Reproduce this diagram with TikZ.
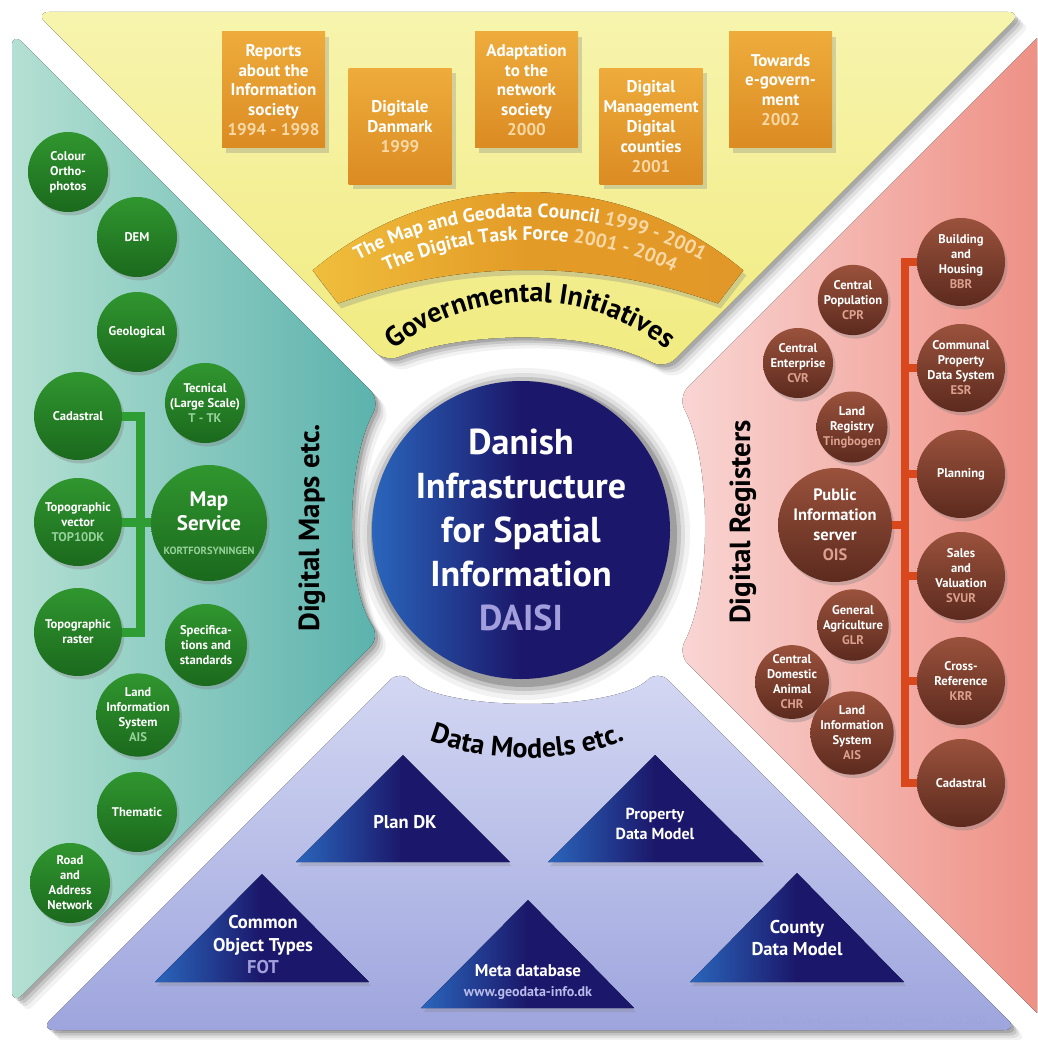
\documentclass[tikz,border=0pt]{standalone}
\usepackage{fontspec}
\setmainfont{PT Sans}
\usetikzlibrary{shadows,decorations.text}
\definecolor{yelA}{HTML}{F7F4AE}
\definecolor{yelB}{HTML}{F1EB80}
\definecolor{tealL}{HTML}{B4E0D2}
\definecolor{tealR}{HTML}{5BB2AD}
\definecolor{pinkL}{HTML}{F9D6D4}
\definecolor{pinkR}{HTML}{EE8F84}
\definecolor{lavT}{HTML}{D4D8F3}
\definecolor{lavB}{HTML}{9EA5DD}
\definecolor{boxT}{HTML}{EEAC3C}
\definecolor{boxB}{HTML}{DB8B22}
\definecolor{bandL}{HTML}{F0BE3C}
\definecolor{bandM}{HTML}{E39B27}
\definecolor{bandR}{HTML}{E29828}
\definecolor{grT}{HTML}{30962F}
\definecolor{grB}{HTML}{1B691D}
\definecolor{brT}{HTML}{9A523C}
\definecolor{brB}{HTML}{5C2A1E}
\definecolor{navy}{HTML}{1B176A}
\definecolor{triblue}{HTML}{2A66BC}
\definecolor{glink}{HTML}{2E9E34}
\definecolor{rlink}{HTML}{D9471D}
\definecolor{subgr}{HTML}{96D29A}
\definecolor{subbr}{HTML}{DBA08E}
\definecolor{yr}{HTML}{F8D9A6}
\definecolor{lavtxt}{HTML}{A39FDD}
\definecolor{webtxt}{HTML}{B9BBEA}
\definecolor{credit}{HTML}{9DA4DB}
\newcommand{\fsz}[2]{\fontsize{#1}{#2}\selectfont}
\def\yelpath{(35,-12) -- (1022,-12) -- (665,-369) .. controls (590,-330) and (470,-330) .. (385,-362) -- cycle}
\def\tealpath{(12,-32) -- (380,-400) .. controls (345,-465) and (345,-585) .. (380,-637) -- (12,-1005) -- cycle}
\def\pinkpath{(1045,-30) -- (678,-397) .. controls (712,-462) and (712,-590) .. (678,-654) -- (1045,-1021) -- cycle}
\def\lavpath{(400,-670) .. controls (443,-712) and (614,-712) .. (658,-670) -- (1018,-1030) -- (40,-1030) -- cycle}
\tikzset{
  reg/.style={rounded corners=14pt},
  shad/.style={drop shadow={shadow xshift=2.5pt,shadow yshift=-3.5pt,opacity=0.35}},
  gc/.style={circle,inner sep=0pt,top color=grT,bottom color=grB,text=white,align=center,
     font=\fsz{12.6}{15}\bfseries,shad},
  bc/.style={circle,inner sep=0pt,top color=brT,bottom color=brB,text=white,align=center,
     font=\fsz{12.6}{15}\bfseries,shad},
  obox/.style={rectangle,inner sep=0pt,minimum width=103pt,minimum height=116pt,
     top color=boxT,bottom color=boxB,text=white,align=center,font=\fsz{17}{19.8}\bfseries,
     drop shadow={shadow xshift=4pt,shadow yshift=-5pt,opacity=0.3}},
  tri/.style={left color=triblue,right color=navy,middle color=navy,
     drop shadow={shadow xshift=2pt,shadow yshift=-4pt,opacity=0.25}},
  tt/.style={text=white,align=center,font=\fsz{18.5}{22.5}\bfseries},
  sect/.style={font=\fsz{29}{30}\bfseries,text=black},
  gline/.style={draw=glink,line width=9pt},
  rline/.style={draw=rlink,line width=8pt},
  band/.style={left color=bandL,right color=bandR,middle color=bandM,
     drop shadow={shadow xshift=3pt,shadow yshift=-5pt,opacity=0.3}}
}
\begin{document}
\begin{tikzpicture}[x=1pt,y=1pt]
\useasboundingbox (0,0) rectangle (1037,-1040);
\fill[white] (0,0) rectangle (1037,-1040);
\begin{scope}
\clip (0,0) rectangle (1037,-1040);
% region shadows
\foreach \d/\o in {11/0.05,8/0.08,5.5/0.11,3/0.15}{
  \fill[reg,black,opacity=\o,shift={(\d,-\d)}] \yelpath;
  \fill[reg,black,opacity=\o,shift={(\d,-\d)}] \tealpath;
  \fill[reg,black,opacity=\o,shift={(\d,-\d)}] \pinkpath;
  \fill[reg,black,opacity=\o,shift={(\d,-\d)}] \lavpath;
}
% regions
\fill[reg,top color=yelA,bottom color=yelB] \yelpath;
\fill[reg,left color=tealL,right color=tealR] \tealpath;
\fill[reg,left color=pinkL,right color=pinkR] \pinkpath;
\fill[reg,top color=lavT,bottom color=lavB] \lavpath;
% central circle halo
\foreach \r/\o in {166/0.05,161/0.08,157/0.12,153/0.18}{
  \fill[black,opacity=\o] (524,-534) circle (\r);
}
\node[circle,minimum size=298pt,inner sep=0pt,left color=triblue,right color=navy,middle color=navy,
  text=white,align=center,font=\fsz{36}{44}\bfseries] (daisi) at (521,-530)
  {Danish\\Infrastructure\\for Spatial\\Information\\{\color{lavtxt}DAISI}};
% governmental initiatives
\node[obox] (b1) at (273.5,-90) {Reports\\about the\\Information\\society\\{\color{yr}1994 - 1998}};
\node[obox] (b2) at (400,-126.5) {Digitale\\Danmark\\{\color{yr}1999}};
\node[obox] (b3) at (526.5,-90) {Adaptation\\to the\\network\\society\\{\color{yr}2000}};
\node[obox] (b4) at (651,-126.5) {Digital\\Management\\Digital\\counties\\{\color{yr}2001}};
\node[obox] (b5) at (780.5,-90) {Towards\\e-govern-\\ment\\{\color{yr}2002}};
\fill[band] ([shift={(528,-527)}]130:335) arc[start angle=130,end angle=50,radius=335]
  -- ([shift={(528,-825)}]70:555) arc[start angle=70,end angle=110,radius=555] -- cycle;
\path[decorate,decoration={text along path,text align=center,
  text={|\fsz{19.5}{19.5}\bfseries\color{white}|The Map and Geodata Council |\fsz{19.5}{19.5}\bfseries\color{yr}|1999 - 2001}}]
  ([shift={(530,-578)}]140:361) arc[start angle=140,end angle=40,radius=361];
\path[decorate,decoration={text along path,text align=center,
  text={|\fsz{19.5}{19.5}\bfseries\color{white}|The Digital Task Force |\fsz{19.5}{19.5}\bfseries\color{yr}|2001 - 2004}}]
  ([shift={(530,-578)}]140:338) arc[start angle=140,end angle=40,radius=338];
\path[decorate,decoration={text along path,text align=center,
  text={|\fsz{28}{28}\bfseries\color{black}|Governmental Initiatives}}]
  ([shift={(530,-523)}]145:221) arc[start angle=145,end angle=35,radius=221];
% digital maps
\node[gc,minimum size=80pt] (col) at (68,-172) {Colour\\Ortho-\\photos};
\node[gc,minimum size=80pt] (dem) at (137,-237) {DEM};
\node[gc,minimum size=80pt] (geo) at (137,-332) {Geological};
\node[gc,minimum size=88pt] (cad) at (78,-416) {Cadastral};
\node[gc,minimum size=80pt] (tec) at (205,-403) {Tecnical\\(Large Scale)\\{\color{subgr}T - TK}};
\node[gc,minimum size=88pt] (topv) at (78,-522) {Topographic\\vector\\{\color{subgr}TOP10DK}};
\node[gc,minimum size=116pt,font=\fsz{21}{24}\bfseries] (maps) at (209,-523)
  {Map\\Service\\{\fsz{10.5}{12}\color{subgr}KORTFORSYNINGEN}};
\node[gc,minimum size=88pt] (topr) at (78,-632) {Topographic\\raster};
\node[gc,minimum size=82pt] (spec) at (206,-645) {Specifica-\\tions and\\standards};
\node[gc,minimum size=80pt] (lis) at (138,-715) {Land\\Information\\System\\{\color{subgr}AIS}};
\node[gc,minimum size=80pt] (them) at (137,-812) {Thematic};
\node[gc,minimum size=80pt] (road) at (70,-883) {Road\\and\\Address\\Network};
\draw[gline] (cad.east) -- ++(18,0) coordinate (gtop) |- (topr.east);
\draw[gline] (topv.east) -- (topv.east -| maps.west);
\node[sect,rotate=90] (dmaps) at (312,-528) {Digital Maps etc.};
% digital registers
\node[bc,minimum size=88pt] (bbr) at (961,-262) {Building\\and\\Housing\\{\color{subbr}BBR}};
\node[bc,minimum size=70pt] (cpr) at (853,-300) {Central\\Population\\{\color{subbr}CPR}};
\node[bc,minimum size=70pt] (cvr) at (798,-363) {Central\\Enterprise\\{\color{subbr}CVR}};
\node[bc,minimum size=88pt] (esr) at (961,-368) {Communal\\Property\\Data System\\{\color{subbr}ESR}};
\node[bc,minimum size=70pt] (tin) at (852,-427) {Land\\Registry\\{\color{subbr}Tingbogen}};
\node[bc,minimum size=88pt] (pla) at (961,-474) {Planning};
\node[bc,minimum size=114pt,font=\fsz{16.5}{20}\bfseries] (ois) at (835,-525) {Public\\Information\\server\\{\color{subbr}OIS}};
\node[bc,minimum size=88pt] (svur) at (961,-576) {Sales\\and\\Valuation\\{\color{subbr}SVUR}};
\node[bc,minimum size=70pt] (glr) at (853,-625) {General\\Agriculture\\{\color{subbr}GLR}};
\node[bc,minimum size=72pt] (chr) at (792,-682) {Central\\Domestic\\Animal\\{\color{subbr}CHR}};
\node[bc,minimum size=70pt] (ais) at (852,-733) {Land\\Information\\System\\{\color{subbr}AIS}};
\node[bc,minimum size=88pt] (krr) at (961,-681) {Cross-\\Reference\\{\color{subbr}KRR}};
\node[bc,minimum size=88pt] (cadr) at (961,-783) {Cadastral};
\draw[rline] (bbr.west) -- ++(-12,0) coordinate (rtop) |- (cadr.west);
\foreach \n in {esr,pla,svur,krr}{\draw[rline] (\n.west) -- (\n.west -| rtop);}
\draw[rline] (ois.east) -- (ois.east -| rtop);
\node[sect,rotate=90] (dregs) at (743,-522) {Digital Registers};
% data models
\path[decorate,decoration={text along path,text align=center,
  text={|\fsz{28}{28}\bfseries\color{black}|Data Models etc.}}]
  ([shift={(527,-473)}]235:285) arc[start angle=235,end angle=305,radius=285];
\fill[tri] (296,-862) -- (403,-755) -- (510,-862) -- cycle;
\fill[tri] (548,-862) -- (655,-755) -- (763,-862) -- cycle;
\fill[tri] (155,-982) -- (262,-874) -- (369,-982) -- cycle;
\fill[tri] (421,-1008) -- (528,-900) -- (634,-1008) -- cycle;
\fill[tri] (690,-982) -- (797,-873) -- (904,-982) -- cycle;
\node[tt] (plan) at (405,-822) {Plan DK};
\node[tt,font=\fsz{16}{19.5}\bfseries] (prop) at (655,-824) {Property\\Data Model};
\node[tt] (fot) at (263,-945) {Common\\Object Types\\{\color{lavtxt}FOT}};
\node[tt,font=\fsz{17}{19.5}\bfseries] (meta) at (528,-982) {Meta database\\{\fsz{14}{17}\color{webtxt}www.geodata-info.dk}};
\node[tt] (cdm) at (797,-938) {County\\Data Model};
\node[font=\fsz{10.5}{12},text=credit] (cred) at (851,-1022) {Layout: Hanne Brande-Lavridsen/Esben Clemens - AAU 2002};
\end{scope}
\end{tikzpicture}
\end{document}
